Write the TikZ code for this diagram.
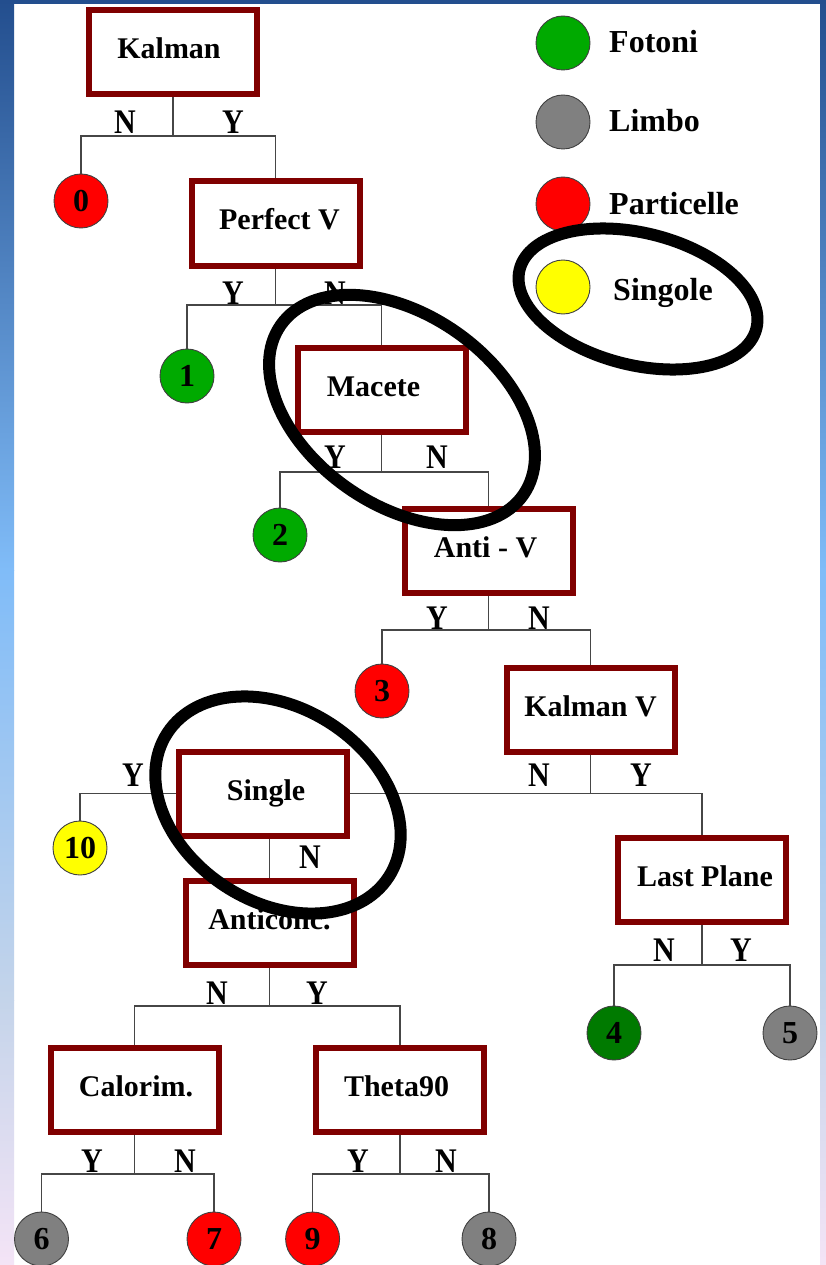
\documentclass[tikz,border=0pt]{standalone}
\usepackage{fontspec}
\setmainfont{Liberation Serif}
\usepackage{graphicx}
\definecolor{boxred}{RGB}{128,0,0}
\definecolor{fgreen}{RGB}{0,170,0}
\definecolor{dgreen}{RGB}{0,122,0}
\definecolor{lgray}{RGB}{128,128,128}
\definecolor{fred}{RGB}{255,0,0}
\definecolor{fyellow}{RGB}{255,255,0}
\definecolor{conncol}{RGB}{70,70,70}
\definecolor{bgA}{RGB}{35,78,142}
\definecolor{bgB}{RGB}{128,188,248}
\definecolor{bgC}{RGB}{196,212,234}
\definecolor{bgD}{RGB}{244,228,246}
\newcommand\tallyn[1]{\scalebox{1}[1.15]{#1}}
\tikzset{
  testbox/.style={draw=boxred, line width=6pt, fill=white, minimum width=168pt, minimum height=84pt,
    inner sep=0pt, font=\fontsize{30}{30}\selectfont\bfseries, text height=20pt, text depth=7pt},
  leaf/.style={circle, draw=black!75, line width=0.9pt, minimum size=54pt, inner sep=0pt,
    font=\fontsize{32}{32}\selectfont\bfseries},
  yn/.style={inner sep=0pt, font=\fontsize{30}{30}\selectfont\bfseries},
  legtext/.style={anchor=base west, inner sep=0pt, font=\fontsize{32}{32}\selectfont\bfseries},
  conn/.style={draw=conncol, line width=1.3pt},
  hoop/.style={draw=black, line width=12pt},
}
\begin{document}
\begin{tikzpicture}[x=1pt,y=-1pt]
\useasboundingbox (0,0) rectangle (826,1265);
% background
\fill[white] (0,0) rectangle (826,1265);
\shade[top color=bgA,bottom color=bgB] (0,0) rectangle (14,570);
\shade[top color=bgB,bottom color=bgC] (0,570) rectangle (14,1000);
\shade[top color=bgC,bottom color=bgD] (0,1000) rectangle (14,1265);
\shade[top color=bgA,bottom color=bgB] (820,0) rectangle (826,570);
\shade[top color=bgB,bottom color=bgC] (820,570) rectangle (826,1000);
\shade[top color=bgC,bottom color=bgD] (820,1000) rectangle (826,1265);
\fill[bgA] (0,0) rectangle (826,4);

% decision boxes
\node[testbox] (kal) at (173,52.5) {Kalman\hspace*{8pt}};
\node[testbox] (pv) at (275.5,223.5) {\hspace*{8pt}Perfect V};
\node[testbox] (mac) at (381.5,390) {Macete\hspace*{16pt}};
\node[testbox] (av) at (488.5,551) {Anti - V\hspace*{6pt}};
\node[testbox] (kv) at (590.5,709.5) {Kalman V};
\node[testbox] (lp) at (702,880) {\hspace*{6pt}Last Plane};
\node[testbox] (sg) at (263,793.5) {\hspace*{6pt}Single};
\node[testbox] (ac) at (269.5,922.5) {Anticonc.};
\node[testbox] (cal) at (134.5,1090) {\hspace*{3pt}Calorim.};
\node[testbox] (th) at (400,1090) {Theta90\hspace*{7pt}};

% leaves
\node[leaf, fill=fred] (c0) at (81,201) {0};
\node[leaf, fill=fgreen] (c1) at (187,376) {1};
\node[leaf, fill=fgreen] (c2) at (280,535) {2};
\node[leaf, fill=fred] (c3) at (382,691) {3};
\node[leaf, fill=fyellow] (c10) at (80,848) {10};
\node[leaf, fill=dgreen] (c4) at (614,1033) {4};
\node[leaf, fill=lgray] (c5) at (790,1033) {5};
\node[leaf, fill=lgray] (c6) at (41.5,1239) {6};
\node[leaf, fill=fred] (c7) at (214,1239) {7};
\node[leaf, fill=fred] (c9) at (312.6,1239) {9};
\node[leaf, fill=lgray] (c8) at (489,1239) {8};

% legend
\node[leaf, fill=fgreen] (lg1) at (563,43) {};
\node[leaf, fill=lgray] (lg2) at (563,122) {};
\node[leaf, fill=fred] (lg3) at (563,204) {};
\node[leaf, fill=fyellow] (lg4) at (563,287) {};
\node[legtext] (lt1) at (609,53) {Fotoni};
\node[legtext] (lt2) at (609,132) {Limbo};
\node[legtext] (lt3) at (609,215) {Particelle};
\node[legtext] (lt4) at (613,300) {Singole};

% junctions
\coordinate (j1) at (kal.south |- 0,136);
\coordinate (j2) at (pv.south |- 0,305);
\coordinate (j3) at (mac.south |- 0,472);
\coordinate (j4) at (av.south |- 0,630);
\coordinate (j5) at (kv.south |- sg.east);
\coordinate (j6) at (lp.south |- 0,965);
\coordinate (j7) at (ac.south |- 0,1006);
\coordinate (j8) at (cal.south |- 0,1174);
\coordinate (j9) at (th.south |- 0,1174);

% connectors
\draw[conn] (kal.south) -- (j1);
\draw[conn] (c0.north) |- (j1) -| (pv.north);
\draw[conn] (pv.south) -- (j2);
\draw[conn] (c1.north) |- (j2) -| (mac.north);
\draw[conn] (mac.south) -- (j3);
\draw[conn] (c2.north) |- (j3) -| (av.north);
\draw[conn] (av.south) -- (j4);
\draw[conn] (c3.north) |- (j4) -| (kv.north);
\draw[conn] (kv.south) -- (j5);
\draw[conn] (sg.east) -- (j5) -| (lp.north);
\draw[conn] (c10.north) |- (sg.west);
\draw[conn] (ac.north) -- (ac.north |- sg.south);
\draw[conn] (lp.south) -- (j6);
\draw[conn] (c4.north) |- (j6) -| (c5.north);
\draw[conn] (ac.south) -- (j7);
\draw[conn] (cal.north) |- (j7) -| (th.north);
\draw[conn] (cal.south) -- (j8);
\draw[conn] (c6.north) |- (j8) -| (c7.north);
\draw[conn] (th.south) -- (j9);
\draw[conn] (c9.north) |- (j9) -| (c8.north);

% branch labels
\node[yn] (l1n) at (125,122) {\tallyn{N}};
\node[yn] (l1y) at (233,122) {\tallyn{Y}};
\node[yn] (l2y) at (233,293) {\tallyn{Y}};
\node[yn] (l2n) at (335,293) {\tallyn{N}};
\node[yn] (l3y) at (335,457) {\tallyn{Y}};
\node[yn] (l3n) at (437,457) {\tallyn{N}};
\node[yn] (l4y) at (437,618) {\tallyn{Y}};
\node[yn] (l4n) at (539,618) {\tallyn{N}};
\node[yn] (l5n) at (539,775) {\tallyn{N}};
\node[yn] (l5y) at (641,775) {\tallyn{Y}};
\node[yn] (l6y) at (133,775) {\tallyn{Y}};
\node[yn] (l6n) at (310,857) {\tallyn{N}};
\node[yn] (l7n) at (664,950) {\tallyn{N}};
\node[yn] (l7y) at (741,950) {\tallyn{Y}};
\node[yn] (l8n) at (217,993) {\tallyn{N}};
\node[yn] (l8y) at (317,993) {\tallyn{Y}};
\node[yn] (l9y) at (92,1161) {\tallyn{Y}};
\node[yn] (l9n) at (185,1161) {\tallyn{N}};
\node[yn] (l10y) at (358,1161) {\tallyn{Y}};
\node[yn] (l10n) at (446,1161) {\tallyn{N}};

% highlight ellipses
\draw[hoop, rotate around={-14:(638,299)}] (638,299) ellipse [x radius=122pt, y radius=66pt];
\draw[hoop, rotate around={-35:(402,410)}] (402,410) ellipse [x radius=148pt, y radius=95pt];
\draw[hoop, rotate around={-33:(278,805)}] (278,805) ellipse [x radius=132pt, y radius=97pt];
\end{tikzpicture}
\end{document}
